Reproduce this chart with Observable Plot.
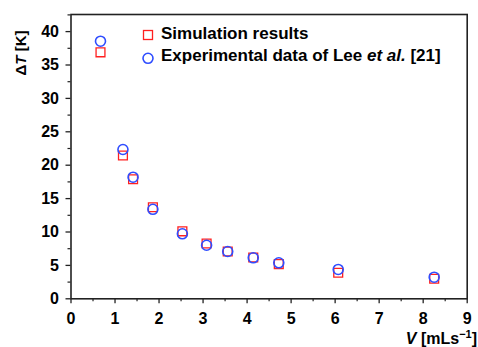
<!DOCTYPE html>
<html><head><meta charset="utf-8">
<script src="https://cdn.jsdelivr.net/npm/d3@7"></script>
<script src="https://cdn.jsdelivr.net/npm/@observablehq/plot@0.6"></script>
<style>
body{margin:0;background:#fff;}
#wrap{position:relative;width:478px;height:347px;font-family:"Liberation Sans",Arial,sans-serif;color:#000;font-weight:bold;}
#wrap svg.plot{position:absolute;left:0;top:0;}
.lg{position:absolute;left:161px;font-size:17px;white-space:nowrap;line-height:1;}
.ylab{position:absolute;left:20px;top:53px;transform:translate(-50%,-50%) rotate(-90deg);font-size:15px;white-space:nowrap;line-height:1;}
.xlab{position:absolute;right:1px;top:329px;font-size:16px;white-space:nowrap;line-height:1;}
.mk{position:absolute;}
</style></head>
<body>
<div id="wrap"></div>
<script>
const flowRate = [0.67, 1.18, 1.41, 1.86, 2.53, 3.08, 3.56, 4.14, 4.72, 6.07, 8.25];
const simulation = [36.9, 21.45, 17.9, 13.7, 10.1, 8.28, 7.08, 6.18, 5.2, 3.9, 3.0];
const experiment = [38.56, 22.35, 18.2, 13.4, 9.73, 8.02, 7.08, 6.14, 5.39, 4.39, 3.23];
const xTicks = [0, 1, 2, 3, 4, 5, 6, 7, 8, 9];
const yTicks = [0, 5, 10, 15, 20, 25, 30, 35, 40];

const simData = flowRate.map((v, i) => ({v, t: simulation[i]}));
const expData = flowRate.map((v, i) => ({v, t: experiment[i]}));
const red = "#ff2020", blue = "#2f4dff", ink = "#222";

const chart = Plot.plot({
  width: 478, height: 347,
  marginLeft: 70.5, marginRight: 11.3, marginTop: 14, marginBottom: 48.7,
  x: {domain: [0, 9]},
  y: {domain: [0, 42.56]},
  style: {fontFamily: "'Liberation Sans', Arial, sans-serif", fontWeight: "bold", background: "transparent"},
  marks: [
    Plot.axisX({ticks: xTicks, tickSize: 5, tickPadding: 9, fontSize: 16, fontWeight: "bold", label: null, stroke: ink, strokeWidth: 1.3, fill: "#000"}),
    Plot.axisX({ticks: d3.range(0.5, 9, 1), tickSize: 3, tickFormat: () => "", label: null, stroke: ink, strokeWidth: 1.2}),
    Plot.axisY({ticks: yTicks, tickSize: 5, tickPadding: 7, fontSize: 16, fontWeight: "bold", label: null, stroke: ink, strokeWidth: 1.3, fill: "#000"}),
    Plot.axisY({ticks: d3.range(2.5, 43, 5), tickSize: 3, tickFormat: () => "", label: null, stroke: ink, strokeWidth: 1.2}),
    Plot.frame({stroke: ink, strokeWidth: 1.6}),
    Plot.dot(simData, {x: "v", y: "t", symbol: "square", r: 5, stroke: red, strokeWidth: 1.3, fill: "none"}),
    Plot.dot(expData, {x: "v", y: "t", symbol: "circle", r: 5, stroke: blue, strokeWidth: 1.6, fill: "none"})
  ]
});
const wrap = document.getElementById("wrap");
wrap.appendChild(chart);
wrap.insertAdjacentHTML("beforeend", `
<svg class="mk" style="left:140px;top:28px" width="16" height="40">
  <rect x="3.5" y="2.5" width="9" height="9" fill="none" stroke="${red}" stroke-width="1.3"/>
  <circle cx="8" cy="30.3" r="5" fill="none" stroke="${blue}" stroke-width="1.6"/>
</svg>
<div class="lg" style="top:25px">Simulation results</div>
<div class="lg" style="top:47px">Experimental data of Lee <i>et al.</i> [21]</div>
<div class="ylab">Δ<i>T</i> [K]</div>
<div class="xlab"><i>V</i> [mLs<sup style="font-size:11px;vertical-align:6px">−1</sup>]</div>
`);
</script>
</body></html>
